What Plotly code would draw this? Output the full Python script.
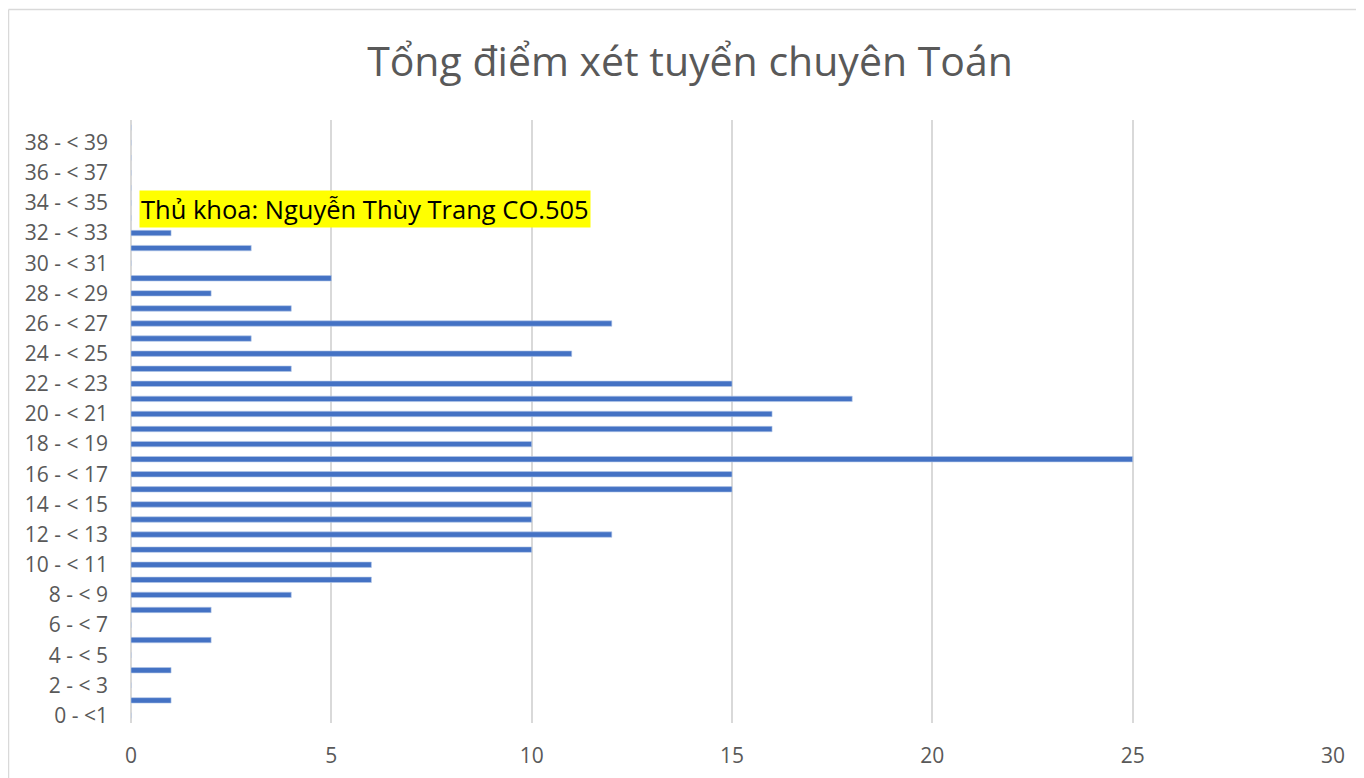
import plotly.graph_objects as go

categories = ["0 - <1"] + [f"{i} - < {i+1}" for i in range(1, 40)]
counts = [0, 1, 0, 1, 0, 2, 0, 2, 4, 6,
          6, 10, 12, 10, 10, 15, 15, 25, 10, 16,
          16, 18, 15, 4, 11, 3, 12, 4, 2, 5,
          0, 3, 1, 0, 0, 0, 0, 0, 0, 0]
tick_labels = categories[::2]
x_ticks = [0, 5, 10, 15, 20, 25, 30]
title_text = "Tổng điểm xét tuyển chuyên Toán"
note_text = "Thủ khoa: Nguyễn Thùy Trang CO.505"

FONT = "Open Sans"
GREY = "#595959"

fig = go.Figure(go.Bar(
    x=counts, y=categories, orientation="h",
    marker=dict(color="#4472C4", line=dict(color="#B4C7E7", width=0.6)),
    width=0.36,
))

# page body has an 8px margin; work in figure coordinates
W, H = 1356, 770
L, R, T, B = 123, 31, 112, 55
pw, ph = W - L - R, H - T - B

def px(x):
    return (x - L) / pw

def py(y):
    return (H - B - y) / ph

fig.update_layout(
    width=W, height=H,
    margin=dict(l=L, r=R, t=T, b=B, autoexpand=False),
    paper_bgcolor="white", plot_bgcolor="white",
    showlegend=False,
    title=dict(text=title_text, x=682 / W, xref="container", xanchor="center",
               y=1 - 54 / H, yref="container", yanchor="middle",
               font=dict(family=FONT, size=41, color=GREY)),
    xaxis=dict(range=[0, 30], tickvals=x_ticks, showgrid=True,
               gridcolor="#D9D9D9", gridwidth=1.5,
               zeroline=True, zerolinecolor="#D9D9D9", zerolinewidth=2,
               showline=False, ticks="", ticklabelstandoff=18,
               automargin=False,
               tickfont=dict(family=FONT, size=21, color=GREY),
               fixedrange=True),
    yaxis=dict(type="category", categoryorder="array", categoryarray=categories,
               range=[-0.5, 39.5], tickvals=tick_labels, ticktext=tick_labels,
               showgrid=False, zeroline=False, showline=False, ticks="",
               ticklabelstandoff=22, automargin=False,
               tickfont=dict(family=FONT, size=21, color=GREY),
               fixedrange=True),
    shapes=[
        dict(type="line", xref="paper", yref="paper",
             x0=px(0.5), x1=px(0.5), y0=py(1.5), y1=py(800),
             line=dict(color="#D9D9D9", width=1.5)),
        dict(type="line", xref="paper", yref="paper",
             x0=px(0.5), x1=px(1400), y0=py(1.5), y1=py(1.5),
             line=dict(color="#D9D9D9", width=1.5)),
    ],
    annotations=[
        dict(text=note_text, xref="x", yref="y", x=0.2, y=33.6,
             xanchor="left", yanchor="middle", showarrow=False,
             bgcolor="#FFFF00", borderpad=1,
             font=dict(family=FONT, size=25.5, color="black")),
    ],
)

fig.write_html("out.html")
